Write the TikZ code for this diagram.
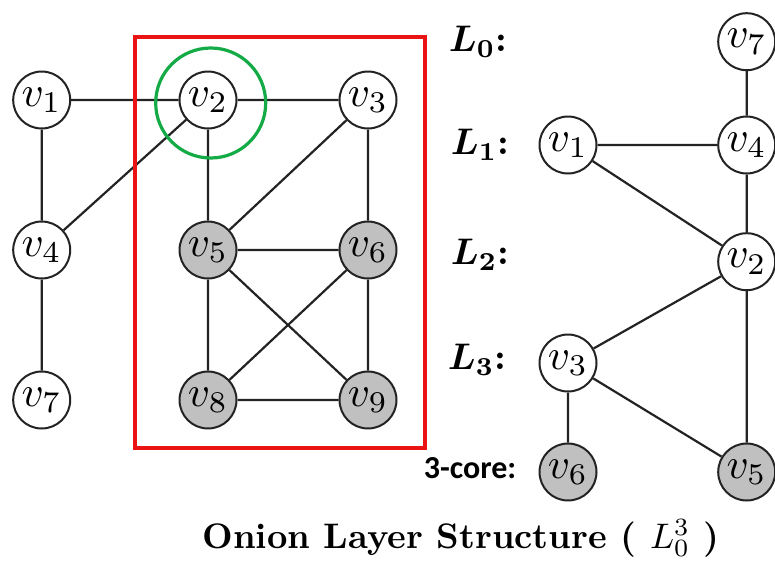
\documentclass[tikz,border=0pt]{standalone}
\usepackage{graphicx}
\usepackage{fontspec}
\newfontfamily\corefont{Carlito}
\definecolor{boxred}{RGB}{235,20,20}
\definecolor{ringgreen}{RGB}{20,170,70}
\definecolor{corefill}{RGB}{192,192,192}
\definecolor{edgecol}{RGB}{35,35,35}
\newcommand\vlab[1]{\scalebox{4.3}{$v_{#1}$}}
\newcommand\llab[1]{\scalebox{3.7}{\bfseries\boldmath$L_{#1}$:}}
\begin{document}
\begin{tikzpicture}[x=1pt,y=-1pt,
  vtx/.style={circle,draw=edgecol,line width=2pt,minimum size=57pt,inner sep=0pt,fill=white},
  core/.style={vtx,fill=corefill},
  edge/.style={draw=edgecol,line width=2.2pt},
  layer/.style={inner sep=0pt},
]
\useasboundingbox (0,0) rectangle (775,562);
% left graph
\node[vtx]  (a1) at (41.7,100) {\vlab1};
\node[vtx]  (a2) at (208,100) {\vlab2};
\node[vtx]  (a3) at (368,100) {\vlab3};
\node[vtx]  (a4) at (41.7,250) {\vlab4};
\node[core] (a5) at (208,250) {\vlab5};
\node[core] (a6) at (368,250) {\vlab6};
\node[vtx]  (a7) at (41.7,400) {\vlab7};
\node[core] (a8) at (208,400) {\vlab8};
\node[core] (a9) at (368,400) {\vlab9};
\draw[edge] (a1)--(a2) (a2)--(a3) (a1)--(a4) (a4)--(a2) (a4)--(a7)
  (a2)--(a5) (a3)--(a5) (a3)--(a6) (a5)--(a6) (a5)--(a8) (a5)--(a9)
  (a6)--(a8) (a6)--(a9) (a8)--(a9);
\draw[boxred,line width=4.5pt] (135,37) rectangle (425,448);
\draw[ringgreen,line width=3.2pt] (210.7,103) circle[radius=55pt];
% right graph
\node[vtx]  (b7) at (746.7,41.7) {\vlab7};
\node[vtx]  (b4) at (746.7,145) {\vlab4};
\node[vtx]  (b1) at (568,145) {\vlab1};
\node[vtx]  (b2) at (746.7,261.7) {\vlab2};
\node[vtx]  (b3) at (568,363) {\vlab3};
\node[core] (b6) at (568,472) {\vlab6};
\node[core] (b5) at (746.7,472) {\vlab5};
\draw[edge] (b7)--(b4) (b1)--(b4) (b1)--(b2) (b4)--(b2) (b2)--(b3)
  (b2)--(b5) (b3)--(b6) (b3)--(b5);
% layer labels
\node[layer] (l0) at (478,42) {\llab0};
\node[layer] (l1) at (480,145) {\llab1};
\node[layer] (l2) at (480,255) {\llab2};
\node[layer] (l3) at (477,360) {\llab3};
\node[font=\corefont\bfseries\fontsize{32}{32}\selectfont,inner sep=0pt] (core) at (470,468) {3-core:};
\node[inner sep=0pt] (cap) at (461,538) {\scalebox{3.55}{\bfseries Onion Layer Structure ( $L_0^{3}$ )}};
\end{tikzpicture}
\end{document}
